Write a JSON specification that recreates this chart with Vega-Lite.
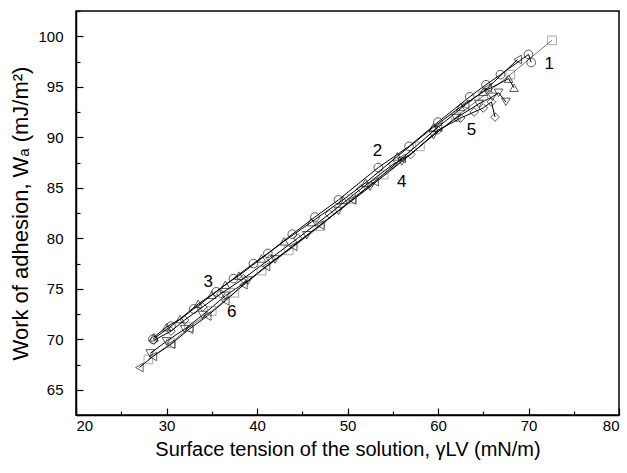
{
  "$schema": "https://vega.github.io/schema/vega-lite/v6.json",
  "autosize": {"type": "none"},
  "width": 543,
  "height": 404,
  "padding": {"left": 76, "top": 11, "right": 8, "bottom": 58},
  "background": "white",
  "config": {
    "view": {"stroke": "black", "strokeWidth": 1.5},
    "font": "Liberation Sans",
    "axis": {
      "domainColor": "black", "domainWidth": 1.5, "tickColor": "black", "tickWidth": 1.2,
      "labelFont": "Liberation Sans", "labelFontSize": 15, "labelColor": "black", "labelOverlap": false,
      "titleFont": "Liberation Sans", "titleFontWeight": "normal", "titleColor": "black",
      "grid": false
    }
  },
  "datasets": {
    "pts": [
      {"s": "1", "g": 28.0, "w": 68.0}, {"s": "1", "g": 30.5, "w": 69.6}, {"s": "1", "g": 32.5, "w": 71.2}, {"s": "1", "g": 35.0, "w": 72.8}, {"s": "1", "g": 37.5, "w": 74.6}, {"s": "1", "g": 40.5, "w": 76.8}, {"s": "1", "g": 43.5, "w": 78.8}, {"s": "1", "g": 47.0, "w": 81.2}, {"s": "1", "g": 50.5, "w": 83.9}, {"s": "1", "g": 54.0, "w": 86.3}, {"s": "1", "g": 58.0, "w": 89.1}, {"s": "1", "g": 62.0, "w": 92.0}, {"s": "1", "g": 65.0, "w": 94.1}, {"s": "1", "g": 68.0, "w": 96.2}, {"s": "1", "g": 72.6, "w": 99.6},
      {"s": "2", "g": 28.5, "w": 70.0}, {"s": "2", "g": 30.5, "w": 71.3}, {"s": "2", "g": 33.0, "w": 73.0}, {"s": "2", "g": 35.5, "w": 74.7}, {"s": "2", "g": 37.4, "w": 76.0}, {"s": "2", "g": 39.6, "w": 77.5}, {"s": "2", "g": 41.2, "w": 78.5}, {"s": "2", "g": 43.9, "w": 80.4}, {"s": "2", "g": 46.4, "w": 82.1}, {"s": "2", "g": 49.0, "w": 83.8}, {"s": "2", "g": 53.4, "w": 87.0}, {"s": "2", "g": 56.8, "w": 89.1}, {"s": "2", "g": 60.0, "w": 91.5}, {"s": "2", "g": 63.5, "w": 94.0}, {"s": "2", "g": 65.3, "w": 95.2}, {"s": "2", "g": 66.9, "w": 96.2}, {"s": "2", "g": 70.0, "w": 98.2}, {"s": "2", "g": 70.3, "w": 97.4},
      {"s": "3", "g": 28.6, "w": 70.2}, {"s": "3", "g": 30.0, "w": 71.2}, {"s": "3", "g": 31.5, "w": 72.0}, {"s": "3", "g": 33.5, "w": 73.5}, {"s": "3", "g": 35.0, "w": 74.4}, {"s": "3", "g": 36.5, "w": 75.4}, {"s": "3", "g": 38.0, "w": 76.3}, {"s": "3", "g": 40.5, "w": 78.0}, {"s": "3", "g": 43.0, "w": 79.7}, {"s": "3", "g": 46.0, "w": 81.6}, {"s": "3", "g": 49.5, "w": 83.8}, {"s": "3", "g": 52.0, "w": 85.5}, {"s": "3", "g": 55.5, "w": 88.1}, {"s": "3", "g": 59.5, "w": 91.0}, {"s": "3", "g": 62.5, "w": 93.0}, {"s": "3", "g": 65.0, "w": 94.5}, {"s": "3", "g": 67.8, "w": 95.8}, {"s": "3", "g": 68.4, "w": 94.9},
      {"s": "4", "g": 28.6, "w": 69.9}, {"s": "4", "g": 30.5, "w": 70.8}, {"s": "4", "g": 32.0, "w": 71.9}, {"s": "4", "g": 34.0, "w": 73.2}, {"s": "4", "g": 36.0, "w": 74.5}, {"s": "4", "g": 38.5, "w": 76.0}, {"s": "4", "g": 41.5, "w": 78.0}, {"s": "4", "g": 44.5, "w": 80.0}, {"s": "4", "g": 48.0, "w": 82.4}, {"s": "4", "g": 51.5, "w": 84.9}, {"s": "4", "g": 55.0, "w": 87.3}, {"s": "4", "g": 57.0, "w": 88.3}, {"s": "4", "g": 60.0, "w": 90.7}, {"s": "4", "g": 62.5, "w": 91.9}, {"s": "4", "g": 64.0, "w": 92.5}, {"s": "4", "g": 65.0, "w": 92.9}, {"s": "4", "g": 65.9, "w": 93.5}, {"s": "4", "g": 66.3, "w": 92.0},
      {"s": "5", "g": 28.2, "w": 68.6}, {"s": "5", "g": 30.0, "w": 69.8}, {"s": "5", "g": 32.0, "w": 71.0}, {"s": "5", "g": 34.0, "w": 72.4}, {"s": "5", "g": 36.5, "w": 74.3}, {"s": "5", "g": 39.0, "w": 75.8}, {"s": "5", "g": 42.0, "w": 77.9}, {"s": "5", "g": 45.5, "w": 80.3}, {"s": "5", "g": 49.0, "w": 82.7}, {"s": "5", "g": 52.5, "w": 85.1}, {"s": "5", "g": 56.0, "w": 87.6}, {"s": "5", "g": 59.5, "w": 90.2}, {"s": "5", "g": 62.0, "w": 91.9}, {"s": "5", "g": 64.5, "w": 93.3}, {"s": "5", "g": 66.0, "w": 94.0}, {"s": "5", "g": 66.7, "w": 94.4}, {"s": "5", "g": 67.5, "w": 93.5},
      {"s": "6", "g": 27.0, "w": 67.2}, {"s": "6", "g": 28.5, "w": 68.3}, {"s": "6", "g": 30.5, "w": 69.5}, {"s": "6", "g": 32.5, "w": 71.0}, {"s": "6", "g": 34.5, "w": 72.3}, {"s": "6", "g": 36.5, "w": 73.8}, {"s": "6", "g": 38.5, "w": 75.4}, {"s": "6", "g": 41.0, "w": 77.2}, {"s": "6", "g": 44.0, "w": 79.2}, {"s": "6", "g": 47.0, "w": 81.3}, {"s": "6", "g": 50.5, "w": 83.8}, {"s": "6", "g": 53.0, "w": 85.6}, {"s": "6", "g": 56.0, "w": 87.9}, {"s": "6", "g": 60.0, "w": 91.0}, {"s": "6", "g": 63.0, "w": 93.2}, {"s": "6", "g": 65.5, "w": 94.9}, {"s": "6", "g": 68.8, "w": 97.7}
    ],
    "labels": [
      {"t": "1", "g": 72.3, "w": 97.3},
      {"t": "2", "g": 53.3, "w": 88.6},
      {"t": "3", "g": 34.6, "w": 75.7},
      {"t": "4", "g": 56.0, "w": 85.6},
      {"t": "5", "g": 63.7, "w": 90.7},
      {"t": "6", "g": 37.2, "w": 72.7}
    ]
  },
  "resolve": {"axis": {"y": "independent"}},
  "layer": [
    {
      "data": {"name": "pts"},
      "mark": {"type": "line", "strokeWidth": 1},
      "encoding": {
        "x": {"field": "g", "type": "quantitative",
          "scale": {"domain": [20, 80], "nice": false, "zero": false},
          "axis": {
            "title": "Surface tension of the solution, γLV (mN/m)",
            "titleFontSize": 20,
            "values": [20, 25, 30, 35, 40, 45, 50, 55, 60, 65, 70, 75, 80],
            "labelExpr": "datum.value % 10 == 0 ? datum.label : ''",
            "tickSize": {"condition": {"test": "datum.value % 10 == 0", "value": -7}, "value": -4},
            "labelPadding": 10, "titlePadding": 3
          }},
        "y": {"field": "w", "type": "quantitative",
          "scale": {"domain": [62.5, 102.5], "nice": false, "zero": false},
          "axis": {
            "orient": "left",
            "title": null,
            "labels": false,
            "values": [62.5, 65, 67.5, 70, 72.5, 75, 77.5, 80, 82.5, 85, 87.5, 90, 92.5, 95, 97.5, 100, 102.5],
            "tickSize": {"condition": {"test": "datum.value % 5 == 0", "value": -7}, "value": -4}
          }},
        "color": {"field": "s", "type": "nominal",
          "scale": {"domain": ["1", "2", "3", "4", "5", "6"], "range": ["#777777", "#000000", "#000000", "#000000", "#000000", "#000000"]},
          "legend": null}
      }
    },
    {
      "data": {"name": "pts"},
      "mark": {"type": "point", "filled": false, "size": 75, "strokeWidth": 0.9},
      "encoding": {
        "x": {"field": "g", "type": "quantitative"},
        "y": {"field": "w", "type": "quantitative", "axis": null},
        "shape": {"field": "s", "type": "nominal",
          "scale": {"domain": ["1", "2", "3", "4", "5", "6"], "range": ["square", "circle", "triangle-up", "diamond", "triangle-down", "triangle-left"]},
          "legend": null},
        "color": {"field": "s", "type": "nominal", "legend": null}
      }
    },
    {
      "data": {"name": "labels"},
      "mark": {"type": "text", "fontSize": 17, "font": "Liberation Sans", "color": "black", "align": "center", "baseline": "middle"},
      "encoding": {
        "x": {"field": "g", "type": "quantitative"},
        "y": {"field": "w", "type": "quantitative",
          "axis": {
            "orient": "left",
            "title": "Work of adhesion, Wₐ (mJ/m²)",
            "titleFontSize": 22,
            "values": [65, 70, 75, 80, 85, 90, 95, 100],
            "format": "d",
            "ticks": false,
            "domain": false,
            "labelPadding": 13, "titlePadding": 5
          }},
        "text": {"field": "t"}
      }
    }
  ]
}
